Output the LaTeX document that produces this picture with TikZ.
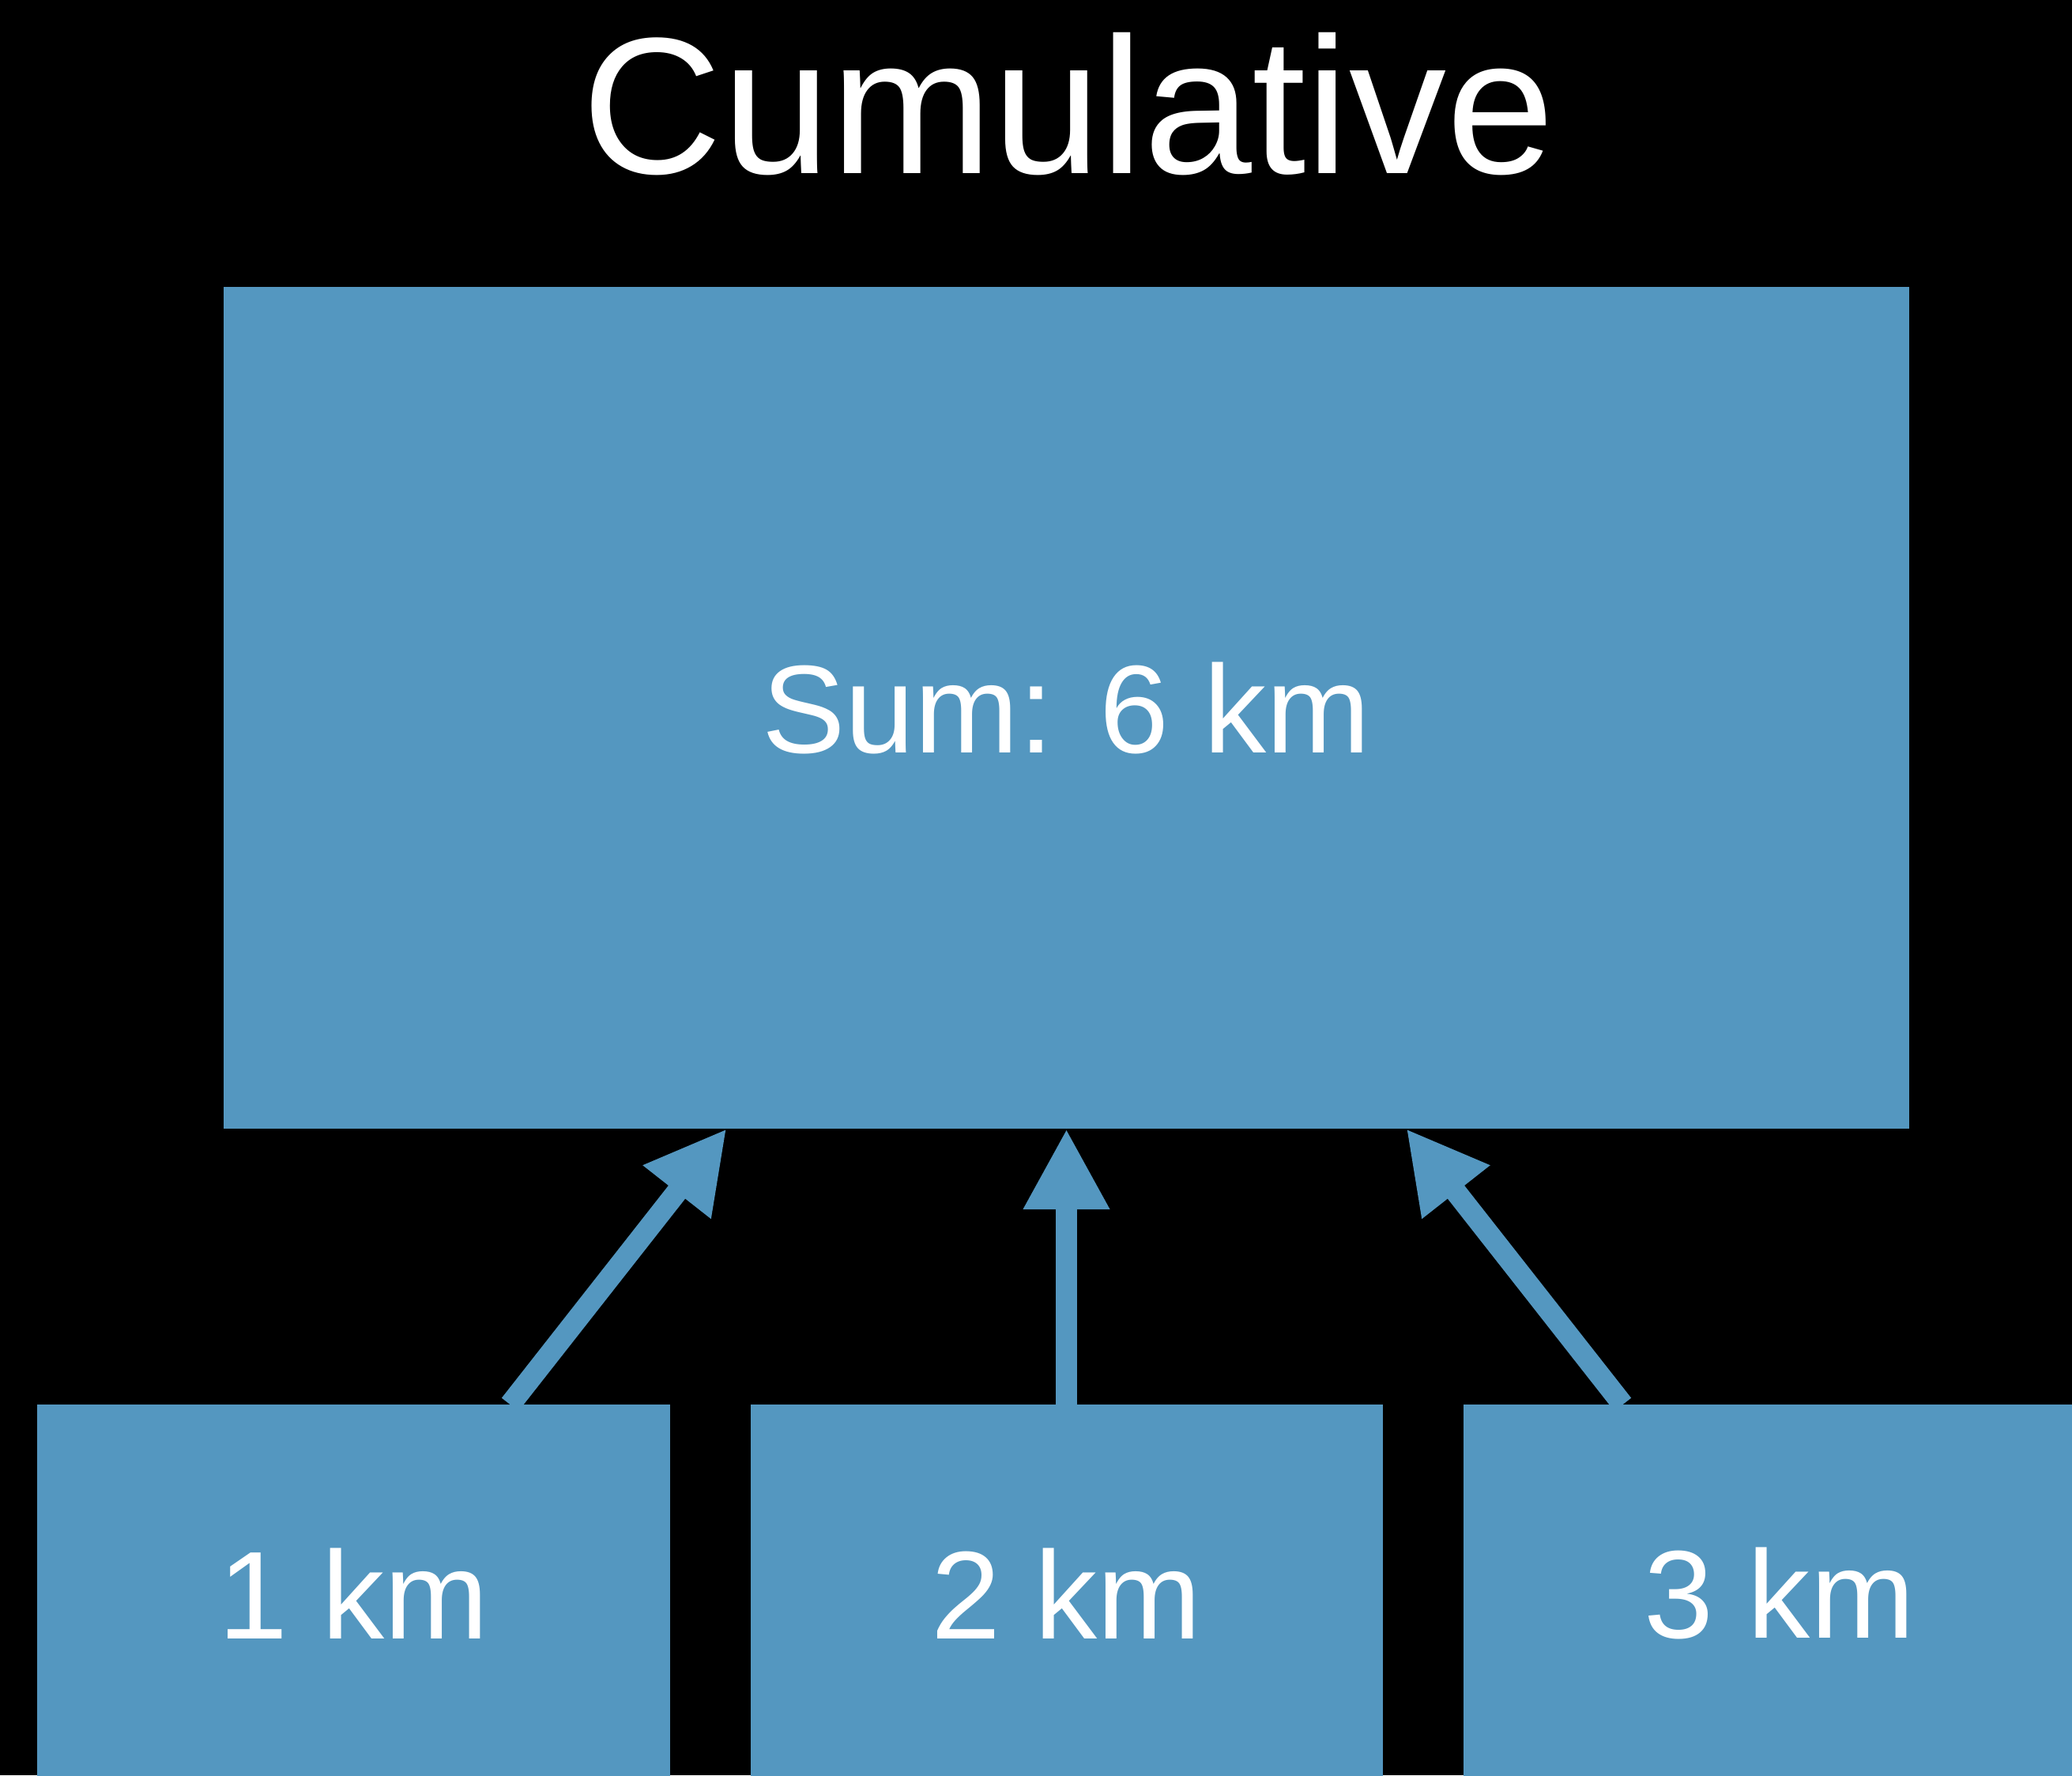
\documentclass[tikz,border=0pt]{standalone}
\usepackage{fontspec}
\setmainfont{Liberation Sans}
\usetikzlibrary{positioning,arrows.meta}
\definecolor{kmblue}{RGB}{84,151,192}
\begin{document}
\begin{tikzpicture}[
		boxfill/.style={fill=kmblue, text=white, inner sep=0pt, outer sep=0pt},
		sumbox/.style={boxfill, minimum width=21.33cm, minimum height=10.65cm},
		kmbox/.style={boxfill, minimum width=8cm, minimum height=4.78cm},
		feed/.style={draw=kmblue, line width=0.27cm, -{Triangle[length=1.02cm, width=1.02cm]}},
		label/.style={font=\fontsize{45}{50}\selectfont}
	]
			% Background
			\fill[black] (0, 0) rectangle (26.22, -22.46);
			\useasboundingbox (0, 0) rectangle (26.22, -22.46);
			
			% Title
			\node[anchor=base, text=white, font=\fontsize{70}{80}\selectfont] (title) at (13.52, -2.19) {Cumulative};
			
			% Boxes
			\node[sumbox, label] (sum) at (13.495, -8.955) {Sum: 6 km};
			\node[kmbox, label, below=3.49cm of sum] (b2) {2 km};
			\node[kmbox, label, left=1.02cm of b2] (b1) {1 km};
			\node[kmbox, label, right=1.02cm of b2] (b3) {3 km};
			
			% Arrows
			\draw[feed] ([xshift=1.98cm]b1.north) -- ([xshift=-4.3cm]sum.south);
			\draw[feed] (b2.north) -- (sum.south);
			\draw[feed] ([xshift=-1.98cm]b3.north) -- ([xshift=4.3cm]sum.south);
		\end{tikzpicture}
\end{document}
